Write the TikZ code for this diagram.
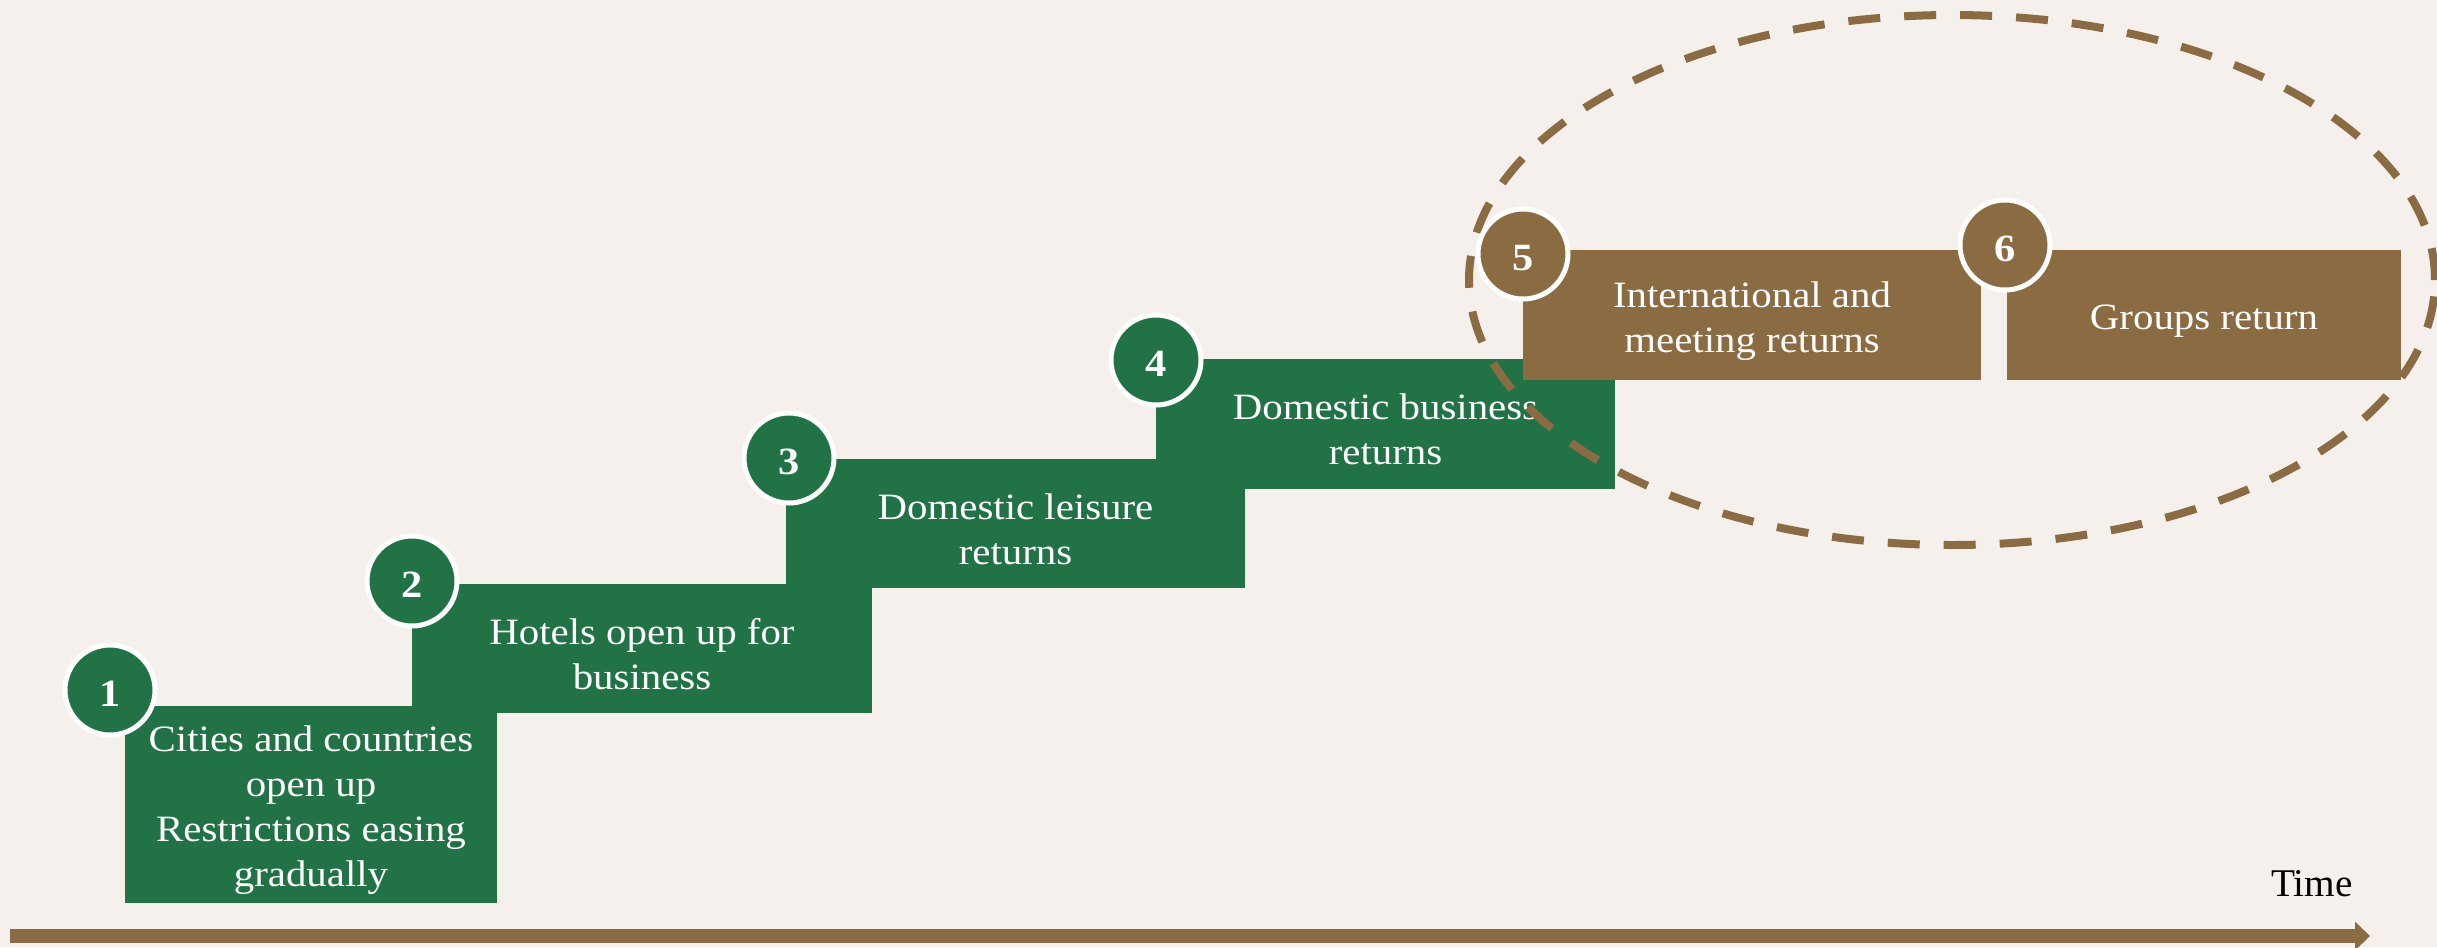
\documentclass[tikz,border=0pt]{standalone}
\usepackage{fontspec}
\setmainfont{Liberation Serif}
\newfontfamily\boxfont{Liberation Serif}[FakeStretch=1.1]
\usetikzlibrary{arrows.meta,shapes.geometric}
\definecolor{bgcol}{RGB}{245,240,235}
\definecolor{stepgreen}{RGB}{33,115,70}
\definecolor{stepbrown}{RGB}{139,108,66}
\tikzset{
  stepbox/.style={fill=#1, draw=none, inner sep=0pt},
  steptext/.style={inner sep=0pt, align=center, text=white, yshift=-2pt,
    font=\boxfont\fontsize{13pt}{15.75pt}\selectfont},
  numdisc/.style={circle, fill=#1, draw=white, line width=1.75pt, minimum size=31.5pt,
    inner sep=0pt},
  numtext/.style={inner sep=0pt, text=white, yshift=-1.3pt,
    font=\boxfont\bfseries\fontsize{13.5pt}{15pt}\selectfont},
  timeline/.style={draw=stepbrown, line width=4.9pt, -{Triangle[length=5.25pt,width=9.8pt]}},
  groupring/.style={ellipse, draw=stepbrown, line width=2.8pt, dash pattern=on 11.2pt off 8.4pt,
    minimum width=338.1pt, minimum height=185.5pt, inner sep=0pt}
}
\begin{document}
\begin{tikzpicture}[x=0.35pt,y=-0.35pt]
\useasboundingbox (0,0) rectangle (2437,947);
\fill[bgcol] (0,0) rectangle (2437,947);

% step boxes
\node[stepbox=stepgreen, minimum width=130.2pt, minimum height=68.95pt] (b1) at (311,804.5) {};
\node[stepbox=stepgreen, minimum width=161pt, minimum height=45.15pt] (b2) at (642,648.5) {};
\node[stepbox=stepgreen, minimum width=160.65pt, minimum height=45.15pt] (b3) at (1015.5,523.5) {};
\node[stepbox=stepgreen, minimum width=160.65pt, minimum height=45.5pt] (b4) at (1385.5,424) {};
\node[stepbox=stepbrown, minimum width=160.3pt, minimum height=45.5pt] (b5) at (1752,315) {};
\node[stepbox=stepbrown, minimum width=137.9pt, minimum height=45.5pt] (b6) at (2204,315) {};

\node[steptext] (t1) at (b1.center) {Cities and countries\\open up\\Restrictions easing\\gradually};
\node[steptext] (t2) at (b2.center) {Hotels open up for\\business};
\node[steptext] (t3) at (b3.center) {Domestic leisure\\returns};
\node[steptext] (t4) at (b4.center) {Domestic business\\returns};
\node[steptext] (t5) at (b5.center) {International and\\meeting returns};
\node[steptext] (t6) at (b6.center) {Groups return};

% dashed group ring
\node[groupring] (ring) at (1952,280) {};

% numbered discs
\node[numdisc=stepgreen] (n1) at (110,690) {};
\node[numdisc=stepgreen] (n2) at (412,581) {};
\node[numdisc=stepgreen] (n3) at (789,458) {};
\node[numdisc=stepgreen] (n4) at (1156,360) {};
\node[numdisc=stepbrown] (n5) at (1523,254) {};
\node[numdisc=stepbrown] (n6) at (2005,245) {};
\node[numtext] (d1) at (n1.center) {1};
\node[numtext] (d2) at (n2.center) {2};
\node[numtext] (d3) at (n3.center) {3};
\node[numtext] (d4) at (n4.center) {4};
\node[numtext] (d5) at (n5.center) {5};
\node[numtext] (d6) at (n6.center) {6};

% time axis
\coordinate (tstart) at (10,936);
\coordinate (tend) at (2370,936);
\draw[timeline] (tstart) -- (tend);
\node[anchor=base, font=\fontsize{13.75pt}{16pt}\selectfont, inner sep=0pt] (tlabel) at (2312,896) {Time};
\end{tikzpicture}
\end{document}
